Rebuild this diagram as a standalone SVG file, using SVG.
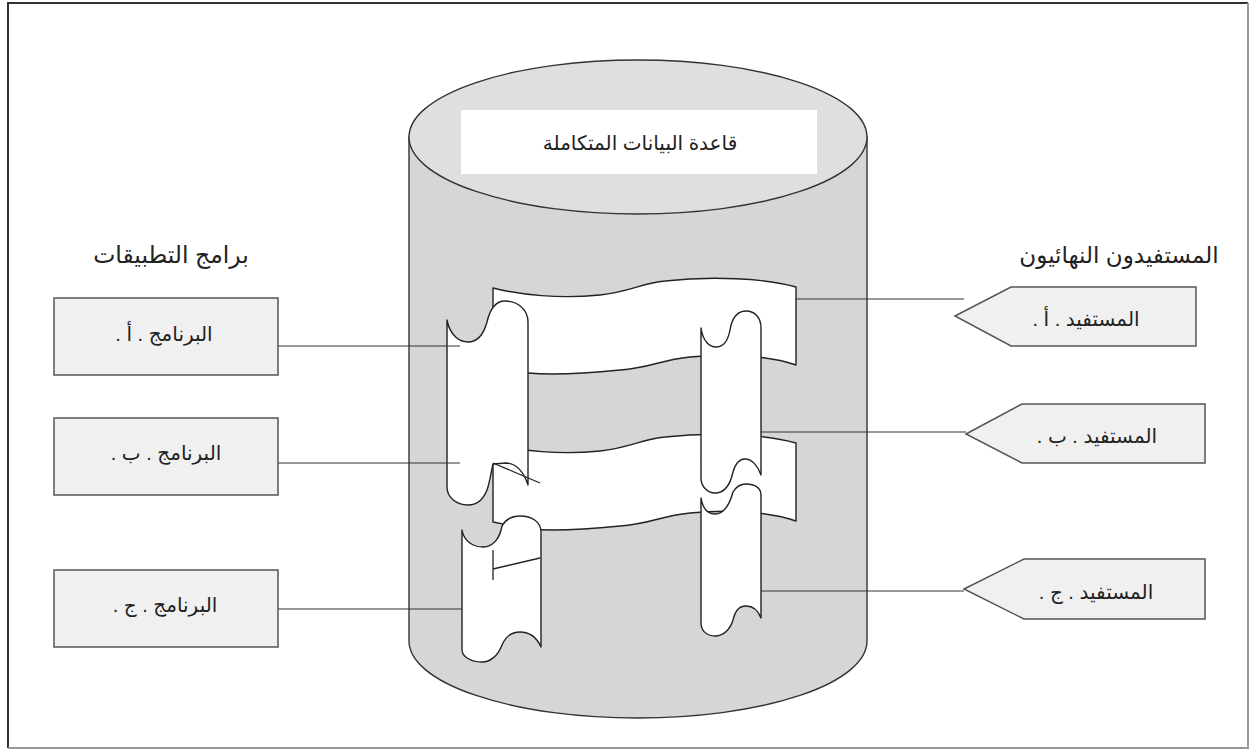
<svg xmlns="http://www.w3.org/2000/svg" width="1252" height="751" viewBox="0 0 1252 751">
  <style>
    .lbl { font-family: "Liberation Sans", "DejaVu Sans", sans-serif; fill: #222; direction: rtl; text-anchor: middle; }
    .box { fill: #f0f0f0; stroke: #555; stroke-width: 1.5; }
    .scroll { fill: #fff; stroke: #222; stroke-width: 1.4; stroke-linejoin: round; }
    .conn { stroke: #333; stroke-width: 1; fill: none; }
    .ink { stroke: #222; stroke-width: 1.3; fill: none; }
  </style>

  <!-- page frame -->
  <rect x="0" y="0" width="1252" height="751" fill="#fff"/>
  <path d="M8,748 L8,3 L1248,3" fill="none" stroke="#333" stroke-width="2"/>
  <path d="M1248,3 L1248,748 L8,748" fill="none" stroke="#999" stroke-width="2"/>

  <!-- database cylinder -->
  <g id="database">
    <path d="M409,137 L409,641 A229,77 0 0 0 867,641 L867,137 Z" fill="#d6d6d6" stroke="#333" stroke-width="1.4"/>
    <ellipse cx="638" cy="137" rx="229" ry="77" fill="#dfdfdf" stroke="#333" stroke-width="1.4"/>
    <rect x="461" y="110" width="356" height="64" fill="#fff"/>
    <text class="lbl" x="640" y="150" font-size="20">قاعدة البيانات المتكاملة</text>
  </g>

  <!-- data ribbons inside the database -->
  <g id="ribbons">
    <path id="band1" class="scroll" d="M493,288 C520,295 560,299 600,295 C630,292 642,283 665,281 C710,276 765,278 796,287 L796,365 C770,356 730,353 690,357 C660,360 650,368 620,370 C590,373 550,375 528,373 L493,373 Z"/>
    <path id="band2" class="scroll" d="M493,444 C520,451 560,455 600,451 C630,448 642,439 665,437 C710,432 765,434 796,443 L796,521 C770,512 730,509 690,513 C660,516 650,524 620,526 C590,529 550,531 528,529 L493,522 Z"/>
    <path id="scrollA" class="scroll" d="M447,320 C450,336 460,342 468,342 C478,342 484,333 487,322 C490,309 496,301 505,301 C518,301 528,310 528,322 L528,485 C524,472 516,463 506,463 L493,464 C491,472 490,482 487,490 C483,500 476,505 468,505 C456,505 447,497 447,487 Z"/>
    <path class="ink" d="M493,463 L540,483"/>
    <path id="scrollC" class="scroll" d="M462,530 C464,542 474,547 483,547 C494,547 500,537 502,526 C506,519 512,516 520,516 C532,516 541,522 541,532 L541,647 C537,638 530,632 520,632 C511,632 505,638 502,645 C498,656 490,662 482,662 C470,662 462,656 462,650 Z"/>
    <path class="ink" d="M493,550 L493,580 M493,569 L540,558"/>
    <path id="scrollRC" class="scroll" d="M701,498 C703,510 709,514 715,514 C725,514 730,503 733,492 C736,487 740,484 746,484 C755,484 761,488 761,495 L761,618 C758,610 752,606 746,606 C738,606 735,612 733,620 C730,630 723,636 715,636 C706,636 701,630 701,623 Z"/>
    <path id="scrollB" class="scroll" d="M701,328 C703,342 710,347 716,347 C726,347 729,337 731,325 C734,315 739,311 746,311 C755,311 761,318 761,328 L761,475 C758,466 752,459 745,459 C738,459 735,465 733,472 C730,486 724,493 715,493 C707,493 701,486 701,478 Z"/>
  </g>

  <!-- connectors -->
  <g id="connectors">
    <line class="conn" x1="278" y1="346" x2="460" y2="346"/>
    <line class="conn" x1="278" y1="463" x2="460" y2="463"/>
    <line class="conn" x1="278" y1="609" x2="462" y2="609"/>
    <line class="conn" x1="796" y1="299" x2="964" y2="299"/>
    <line class="conn" x1="761" y1="432" x2="966" y2="432"/>
    <line class="conn" x1="761" y1="591" x2="964" y2="591"/>
  </g>

  <!-- application programs -->
  <text class="lbl" x="171" y="263" font-size="23.5">برامج التطبيقات</text>
  <g id="program-a">
    <rect class="box" x="54" y="298" width="224" height="77"/>
    <text class="lbl" x="164" y="341" font-size="20">البرنامج . أ .</text>
  </g>
  <g id="program-b">
    <rect class="box" x="54" y="418" width="224" height="77"/>
    <text class="lbl" x="166" y="460" font-size="20">البرنامج . ب .</text>
  </g>
  <g id="program-c">
    <rect class="box" x="54" y="570" width="224" height="77"/>
    <text class="lbl" x="165" y="612" font-size="20">البرنامج . ج .</text>
  </g>

  <!-- end users -->
  <text class="lbl" x="1119" y="263" font-size="23">المستفيدون النهائيون</text>
  <g id="user-a">
    <polygon class="box" points="955,316 1011,287 1196,287 1196,346 1011,346"/>
    <text class="lbl" x="1086" y="326" font-size="20">المستفيد . أ .</text>
  </g>
  <g id="user-b">
    <polygon class="box" points="966,434 1022,404 1205,404 1205,463 1022,463"/>
    <text class="lbl" x="1097" y="443" font-size="20">المستفيد . ب .</text>
  </g>
  <g id="user-c">
    <polygon class="box" points="964,589 1024,559 1205,559 1205,619 1024,619"/>
    <text class="lbl" x="1096" y="599" font-size="20">المستفيد . ج .</text>
  </g>
</svg>
